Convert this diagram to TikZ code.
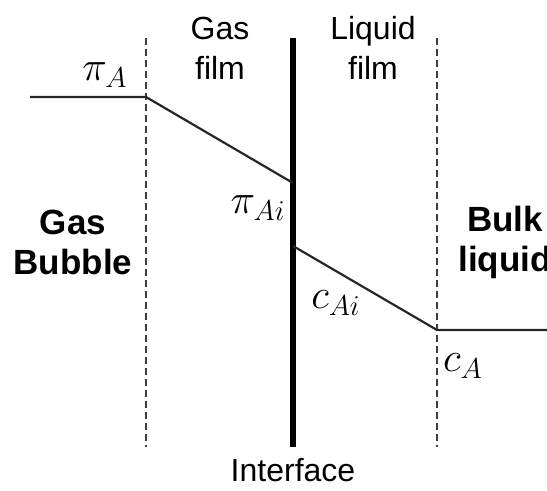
\documentclass[tikz,border=0pt]{standalone}
\usepackage{fontspec}
\setmainfont{Liberation Sans}
\usetikzlibrary{positioning}

\begin{document}
\begin{tikzpicture}[
    x=0.5pt,
    y=-0.5pt,
    font=\fontsize{16}{20}\selectfont,
    boundary/.style={draw=dashgrey, line width=0.75pt, dash pattern=on 3.5pt off 2pt},
    interface/.style={draw=black, line width=2.6pt},
    profile/.style={draw=black!85, line width=1.1pt, line join=round},
    region/.style={align=center, font=\fontsize{16}{20}\selectfont},
    phase/.style={align=center, font=\fontsize{17.5}{20}\selectfont\bfseries},
    conc/.style={inner sep=0pt, font=\fontsize{20}{24}\selectfont}
]

\definecolor{dashgrey}{RGB}{60,60,60}

\useasboundingbox (0,0) rectangle (547,491);

% Film boundaries and the interface.
\coordinate (gastop) at (146,38);
\coordinate (gasbot) at (146,447);
\coordinate (inttop) at (293,38);
\coordinate (intbot) at (293,447);
\coordinate (liqtop) at (437,38);
\coordinate (liqbot) at (437,447);

\draw[boundary] (gastop) -- (gasbot);
\draw[boundary] (liqtop) -- (liqbot);
\draw[interface] (inttop) -- (intbot);

% Concentration profile through both films.
\coordinate (bubble) at (30,97);
\coordinate (gasedge) at (146,97);
\coordinate (gasint) at (293,183);
\coordinate (liqint) at (293,246);
\coordinate (liqedge) at (437,330);
\coordinate (bulk) at (547,330);

\draw[profile] (bubble) -- (gasedge) -- (gasint);
\draw[profile] (liqint) -- (liqedge) -- (bulk);

% Region labels.
\node[region] (gasfilm) at (220,48) {Gas\\film};
\node[region] (liqfilm) at (373,48) {Liquid\\film};
\node[region] (intlabel) at (293,470) {Interface};
\node[phase] (gasbubble) at (73,242) {Gas\\Bubble};
\node[phase] (bulkliq) at (505,242) {Bulk\\liquid};

% Partial pressures and concentrations.
\node[conc] (piA) at (105,75) {$\pi_{A}$};
\node[conc] (piAi) at (258,208) {$\pi_{Ai}$};
\node[conc] (cAi) at (336,303) {$c_{Ai}$};
\node[conc] (cA) at (463,366) {$c_{A}$};

\end{tikzpicture}
\end{document}
